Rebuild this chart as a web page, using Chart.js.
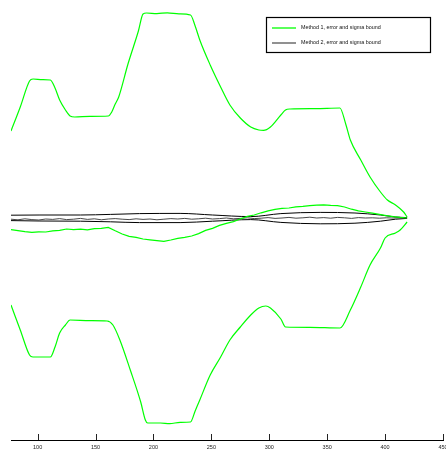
<!DOCTYPE html>
<html>
<head>
<meta charset="utf-8">
<script src="https://cdn.jsdelivr.net/npm/chart.js@4.4.0/dist/chart.umd.min.js"></script>
<style>
  html, body { margin: 0; padding: 0; background: #fff; }
  #myChart { display: block; }
</style>
</head>
<body>
<canvas id="myChart" width="446" height="451"></canvas>
<script>
// x tick labels
const xTicks = [100, 150, 200, 250, 300, 350, 400, 450];

// method 1 sigma bound (upper / lower)
const m1UpperX = [77, 85, 93, 96, 104, 111, 115, 119, 124, 128, 132, 145, 161, 164, 167, 170, 178, 187, 191, 194, 203, 212, 222, 232,
  236, 240, 249, 258, 266, 275, 284, 291, 295, 301, 310, 314, 318, 340, 361, 366, 370, 379, 387, 396, 402, 409, 416, 419];
const m1Upper = [4.35, 5.55, 6.85, 6.95, 6.92, 6.9, 6.5, 5.9, 5.4, 5.1, 5.05, 5.08, 5.1, 5.3, 5.7, 6.05, 7.7, 9.35, 10.2, 10.25, 10.22, 10.26, 10.21, 10.15,
  9.6, 8.9, 7.65, 6.55, 5.65, 5.0, 4.55, 4.4, 4.38, 4.55, 5.15, 5.4, 5.45, 5.47, 5.5, 4.7, 3.9, 2.9, 2.05, 1.3, 0.9, 0.65, 0.3, 0.05];
const m1LowerX = [77, 85, 93, 96, 111, 115, 119, 124, 128, 145, 160, 165, 171, 180, 189, 193, 195, 206, 214, 223, 232,
  236, 240, 249, 258, 266, 275, 284, 291, 297, 301, 310, 314, 335, 361, 370, 379, 387, 396, 400, 409, 413, 419];
const m1Lower = [-4.35, -5.6, -6.85, -6.95, -6.95, -6.45, -5.75, -5.35, -5.1, -5.13, -5.15, -5.35, -6.1, -7.6, -9.2, -10.1, -10.25, -10.25, -10.28, -10.22, -10.2,
  -9.65, -9.1, -7.85, -6.95, -6.1, -5.45, -4.85, -4.5, -4.4, -4.5, -5.05, -5.45, -5.47, -5.5, -4.6, -3.45, -2.35, -1.5, -1.0, -0.75, -0.6, -0.2];

// method 2 sigma bound
const m2BoundX = [77, 102, 137, 163, 188, 223, 251, 284, 310, 344, 374, 396, 409, 419];
const m2Upper = [0.14, 0.15, 0.15, 0.18, 0.22, 0.23, 0.15, 0.07, 0.22, 0.28, 0.25, 0.15, 0.05, 0.02];
const m2Lower = [-0.13, -0.15, -0.16, -0.19, -0.23, -0.23, -0.16, -0.08, -0.22, -0.29, -0.26, -0.16, -0.06, -0.02];

// errors
const errX = [77, 83, 89, 95, 101, 107, 113, 119, 125, 131, 137, 143, 149, 155, 161, 167, 173, 179, 185, 191, 197, 203, 209, 215,
  221, 227, 233, 239, 245, 251, 257, 263, 269, 275, 281, 287, 293, 299, 305, 311, 317, 323, 329, 335, 341, 347, 353, 359, 365,
  371, 377, 383, 389, 395, 401, 407, 413, 419];
const m1Err = [-0.58, -0.63, -0.68, -0.72, -0.69, -0.7, -0.64, -0.62, -0.55, -0.58, -0.56, -0.59, -0.53, -0.52, -0.47, -0.64, -0.8, -0.92,
  -0.97, -1.05, -1.09, -1.13, -1.17, -1.1, -1.02, -0.97, -0.9, -0.78, -0.62, -0.52, -0.37, -0.27, -0.18, -0.05, 0.08, 0.15, 0.26,
  0.36, 0.43, 0.48, 0.5, 0.56, 0.58, 0.62, 0.64, 0.66, 0.63, 0.62, 0.55, 0.44, 0.36, 0.3, 0.24, 0.18, 0.12, 0.07, 0.03, 0.0];
const m2Err = [-0.06, -0.09, -0.04, -0.08, -0.1, -0.05, -0.07, -0.03, -0.08, -0.06, -0.02, -0.07, -0.04, -0.09, -0.05, -0.03, -0.06,
  -0.08, -0.04, -0.07, -0.05, -0.09, -0.06, -0.03, -0.05, -0.02, -0.06, -0.04, -0.01, -0.05, -0.03, 0.0, -0.04, -0.02, 0.01, -0.03,
  -0.01, 0.02, -0.02, 0.0, 0.03, -0.01, 0.01, 0.04, 0.0, 0.02, -0.01, 0.03, 0.01, -0.02, 0.02, 0.0, 0.01, -0.01, 0.01, 0.0, 0.01, 0.0];

const GREEN = '#00ff00';

function pts(xs, ys) {
  return xs.map((x, i) => ({x: x, y: ys[i]}));
}

function line(label, xs, ys, color, width, smooth, inLegend) {
  return {
    label: label,
    data: pts(xs, ys),
    borderColor: color,
    borderWidth: width,
    pointRadius: 0,
    fill: false,
    cubicInterpolationMode: smooth ? 'monotone' : 'default',
    tension: 0,
    inLegend: inLegend
  };
}

const data = {
  datasets: [
    line('Method 1, error and sigma bound', errX, m1Err, GREEN, 1.2, false, true),
    line('', m1UpperX, m1Upper, GREEN, 1.2, true, false),
    line('', m1LowerX, m1Lower, GREEN, 1.2, true, false),
    line('Method 2, error and sigma bound', errX, m2Err, '#333', 0.9, false, true),
    line('', m2BoundX, m2Upper, '#000', 1, true, false),
    line('', m2BoundX, m2Lower, '#000', 1, true, false)
  ]
};

// ticks pointing into the plot
const innerTicks = {
  id: 'innerTicks',
  afterDatasetsDraw(chart) {
    const sx = chart.scales.x;
    const ctx = chart.ctx;
    const bottom = chart.chartArea.bottom;
    ctx.save();
    ctx.strokeStyle = '#222';
    ctx.lineWidth = 1;
    sx.ticks.forEach(t => {
      const px = Math.round(sx.getPixelForValue(t.value)) + 0.5;
      ctx.beginPath();
      ctx.moveTo(px, bottom);
      ctx.lineTo(px, bottom - 6);
      ctx.stroke();
    });
    ctx.restore();
  }
};

// boxed legend in the upper right
const boxLegend = {
  id: 'boxLegend',
  afterDraw(chart) {
    const ctx = chart.ctx;
    const items = chart.data.datasets.filter(d => d.inLegend);
    const x0 = 266.5, y0 = 17.5, w = 164, h = 35;
    ctx.save();
    ctx.fillStyle = '#fff';
    ctx.fillRect(x0, y0, w, h);
    ctx.strokeStyle = '#000';
    ctx.lineWidth = 1.2;
    ctx.strokeRect(x0, y0, w, h);
    ctx.font = '5.4px "Liberation Sans", Arial, sans-serif';
    ctx.textBaseline = 'middle';
    items.forEach((d, i) => {
      const y = 28 + i * 15;
      ctx.strokeStyle = d.borderColor === GREEN ? GREEN : '#555';
      ctx.lineWidth = 1.3;
      ctx.beginPath();
      ctx.moveTo(272, y);
      ctx.lineTo(296, y);
      ctx.stroke();
      ctx.fillStyle = '#111';
      ctx.fillText(d.label, 301, y);
    });
    ctx.restore();
  }
};

const config = {
  type: 'line',
  data: data,
  options: {
    responsive: false,
    animation: false,
    devicePixelRatio: 1,
    layout: {padding: {left: 11, right: 3, top: 0, bottom: 0}},
    plugins: {
      legend: {display: false},
      tooltip: {enabled: false}
    },
    scales: {
      x: {
        type: 'linear',
        min: 77,
        max: 450,
        afterBuildTicks(scale) {
          scale.ticks = xTicks.map(v => ({value: v}));
        },
        afterFit(scale) {
          scale.height = 11;
          scale.paddingLeft = 0;
          scale.paddingRight = 0;
        },
        grid: {display: false, drawTicks: false},
        border: {display: true, color: '#000', width: 1},
        ticks: {
          autoSkip: false,
          maxRotation: 0,
          padding: 4,
          color: '#222',
          font: {family: '"Liberation Sans", Arial, sans-serif', size: 5.5}
        }
      },
      y: {
        type: 'linear',
        display: false,
        min: -11.1,
        max: 10.9
      }
    }
  },
  plugins: [innerTicks, boxLegend]
};

const ctx = document.getElementById('myChart');
var myChart = new Chart(ctx, config);
</script>
</body>
</html>
